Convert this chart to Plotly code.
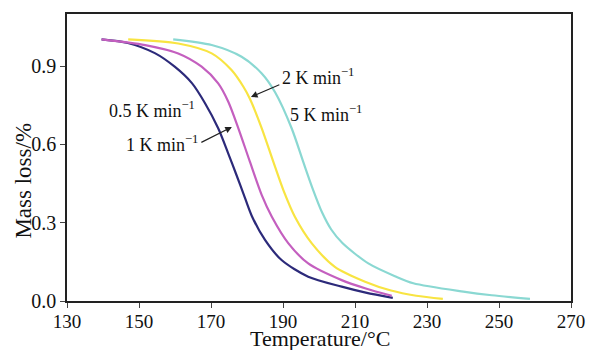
import plotly.graph_objects as go

# 0.5 K/min
t_05 = [139.6, 146.9, 154.4, 160.0, 164.7, 168.3, 172.0, 174.8, 177.1, 179.0, 181.3, 185.0, 189.6, 197.0, 206.3, 213.0, 220.5]
m_05 = [1.003, 0.989, 0.950, 0.897, 0.835, 0.759, 0.662, 0.565, 0.482, 0.412, 0.327, 0.234, 0.157, 0.093, 0.055, 0.032, 0.012]
# 1 K/min
t_1 = [139.6, 151.7, 160.9, 167.4, 172.0, 174.8, 177.6, 180.8, 184.1, 186.9, 191.5, 197.0, 206.3, 213.0, 220.2]
m_1 = [1.003, 0.981, 0.949, 0.898, 0.834, 0.764, 0.662, 0.534, 0.406, 0.323, 0.221, 0.144, 0.080, 0.048, 0.020]
# 2 K/min
t_2 = [147.0, 160.9, 170.2, 175.7, 179.0, 180.8, 184.1, 187.3, 190.1, 193.3, 198.0, 204.4, 212.8, 220.0, 227.0, 234.4]
m_2 = [1.003, 0.987, 0.949, 0.885, 0.821, 0.775, 0.662, 0.534, 0.425, 0.323, 0.221, 0.131, 0.074, 0.040, 0.020, 0.008]
# 5 K/min
t_5 = [159.5, 170.2, 178.5, 184.1, 187.8, 192.4, 195.6, 198.2, 200.9, 203.4, 206.5, 213.7, 221.1, 226.2, 240.1, 248.0, 258.6]
m_5 = [1.003, 0.981, 0.936, 0.872, 0.800, 0.662, 0.534, 0.432, 0.338, 0.274, 0.222, 0.144, 0.095, 0.068, 0.036, 0.022, 0.008]

series_names = ["0.5 K/min", "1 K/min", "2 K/min", "5 K/min"]
colors = ["#2c2a7a", "#c45fbf", "#f8e442", "#8ad8d2"]

x_ticks = [130, 150, 170, 190, 210, 230, 250, 270]
y_ticks = [0.0, 0.3, 0.6, 0.9]
y_ticktext = ["0.0", "0.3", "0.6", "0.9"]

fig = go.Figure()
for t, m, name, c in zip([t_05, t_1, t_2, t_5], [m_05, m_1, m_2, m_5], series_names, colors):
    fig.add_trace(go.Scatter(x=t, y=m, mode="lines", name=name,
                             line=dict(color=c, width=2.2, shape="spline", smoothing=0.8)))

font_f = "Liberation Serif"
labels = [
    ("0.5 K min<sup>−1</sup>", 153.6, 0.735),
    ("1 K min<sup>−1</sup>", 156.3, 0.603),
    ("2 K min<sup>−1</sup>", 199.8, 0.862),
    ("5 K min<sup>−1</sup>", 202.0, 0.718),
]
for txt, x, y in labels:
    fig.add_annotation(x=x, y=y, text=txt, showarrow=False,
                       font=dict(family=font_f, size=18, color="#111"))

arrows = [((166.9, 0.605), (175.8, 0.667)), ((189.4, 0.831), (181.1, 0.782))]
for (tx, ty), (hx, hy) in arrows:
    fig.add_annotation(x=hx, y=hy, ax=tx, ay=ty, axref="x", ayref="y", xref="x", yref="y",
                       text="", showarrow=True, arrowhead=2, arrowsize=1.1, arrowwidth=1.2,
                       arrowcolor="#222")

# axis titles
fig.add_annotation(x=0.502, y=-0.132, xref="paper", yref="paper", xanchor="center", yanchor="middle",
                   text="Temperature/°C", showarrow=False,
                   font=dict(family=font_f, size=22, color="#111"))
fig.add_annotation(x=-0.087, y=0.42, xref="paper", yref="paper", xanchor="center", yanchor="middle",
                   text="Mass loss/%", showarrow=False, textangle=-90,
                   font=dict(family=font_f, size=23, color="#111"))

fig.update_layout(
    width=591, height=350,
    margin=dict(l=67, r=20, t=14, b=49),
    paper_bgcolor="white", plot_bgcolor="white",
    showlegend=False,
    font=dict(family=font_f, size=19, color="#111"),
)
fig.update_xaxes(range=[130, 270], tickvals=x_ticks, ticks="outside", ticklen=5,
                 showline=True, linecolor="#222", linewidth=1.5, mirror=True,
                 showgrid=False, zeroline=False, automargin=False,
                 ticklabelstandoff=-3,
                 tickfont=dict(family=font_f, size=19))
fig.update_yaxes(range=[0, 1.1], tickvals=y_ticks, ticktext=y_ticktext,
                 ticks="outside", ticklen=5,
                 showline=True, linecolor="#222", linewidth=1.5, mirror=True,
                 showgrid=False, zeroline=False, automargin=False,
                 tickfont=dict(family=font_f, size=20))

fig.write_html("out.html", config={"displayModeBar": False},
               post_script="document.body.style.margin='0';document.body.style.overflow='hidden';")
